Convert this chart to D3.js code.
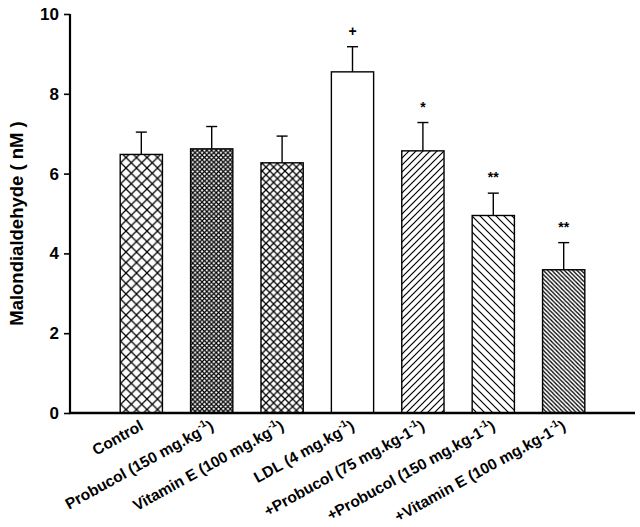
<!DOCTYPE html>
<html><head><meta charset="utf-8">
<script src="https://cdn.jsdelivr.net/npm/d3@7/dist/d3.min.js"></script>
<style>
html,body{margin:0;padding:0;background:#fff;}
text{font-family:"Liberation Sans",Arial,sans-serif;font-weight:bold;fill:#000;}
</style></head>
<body>
<svg id="chart" width="640" height="527"></svg>
<script>
const categories = ["Control","Probucol (150 mg.kg","Vitamin E (100 mg.kg","LDL (4 mg.kg","+Probucol (75 mg.kg-1","+Probucol (150 mg.kg-1","+Vitamin E (100 mg.kg-1"];
const labelSup = ["", "-1", "-1", "-1", "-1", "-1", "-1"];
const labelTail = ["", ")", ")", ")", ")", ")", ")"];
const values = [6.48, 6.62, 6.27, 8.55, 6.57, 4.95, 3.59];
const errors = [0.56, 0.56, 0.67, 0.63, 0.71, 0.56, 0.68];
const marks = ["", "", "", "+", "*", "**", "**"];
const patterns = ["cross", "crossDense", "crossMed", "none", "fwd", "back", "backDense"];
const yTicks = [0, 2, 4, 6, 8, 10];

const svg = d3.select("#chart");
const x0 = 70, x1 = 635, yTop = 14, yBot = 413;
const x = d3.scaleBand().domain(categories).range([x0, x1]).paddingInner(0.4).paddingOuter(0.713);
const y = d3.scaleLinear().domain([0, 10]).range([yBot, yTop]);

const defs = svg.append("defs");
function hatch(id, P, sw, dirs) {
  const p = defs.append("pattern").attr("id", id).attr("patternUnits", "userSpaceOnUse")
    .attr("width", P).attr("height", P);
  p.append("rect").attr("width", P).attr("height", P).attr("fill", "#fff");
  if (dirs.includes("/")) p.append("path").attr("d", `M${-P},${P} L${P},${-P} M0,${2*P} L${2*P},0 M0,${P} L${P},0`)
    .attr("stroke", "#000").attr("stroke-width", sw);
  if (dirs.includes("\\")) p.append("path").attr("d", `M${-P},0 L${P},${2*P} M0,${-P} L${2*P},${P} M0,0 L${P},${P}`)
    .attr("stroke", "#000").attr("stroke-width", sw);
}
hatch("cross", 10.5, 1.3, "/\\");
hatch("crossDense", 4.7, 1.2, "/\\");
hatch("crossMed", 7.6, 1.3, "/\\");
hatch("fwd", 7, 1.2, "/");
hatch("back", 8, 1.2, "\\");
hatch("backDense", 4.2, 1.3, "\\");

const fillFor = p => p === "none" ? "#fff" : `url(#${p})`;

const bw = x.bandwidth();
// bars
svg.append("g").selectAll("rect").data(categories).join("rect")
  .attr("x", d => x(d)).attr("width", bw)
  .attr("y", (d, i) => y(values[i])).attr("height", (d, i) => y(0) - y(values[i]))
  .attr("fill", (d, i) => fillFor(patterns[i]))
  .attr("stroke", "#000").attr("stroke-width", 1.4);

// error bars
const eg = svg.append("g").attr("stroke", "#000").attr("stroke-width", 1.4);
categories.forEach((c, i) => {
  const cx = x(c) + bw / 2;
  eg.append("line").attr("x1", cx).attr("x2", cx).attr("y1", y(values[i])).attr("y2", y(values[i] + errors[i]));
  eg.append("line").attr("x1", cx - 5.5).attr("x2", cx + 5.5).attr("y1", y(values[i] + errors[i])).attr("y2", y(values[i] + errors[i]));
});

// significance marks
svg.append("g").selectAll("text").data(categories).join("text")
  .attr("x", d => x(d) + bw / 2)
  .attr("y", (d, i) => y(values[i] + errors[i]) - 11)
  .attr("text-anchor", "middle").attr("font-size", 14)
  .text((d, i) => marks[i]);

// y axis
const yAxis = d3.axisLeft(y).tickValues(yTicks).tickSize(6).tickPadding(5).tickFormat(d3.format("d"));
const ya = svg.append("g").attr("transform", `translate(${x0},0)`).call(yAxis);
ya.select(".domain").attr("stroke-width", 2.2).attr("d", `M0,${yTop}V${yBot}`);
ya.selectAll(".tick line").attr("stroke-width", 1.6);
ya.selectAll(".tick text").attr("font-size", 17).attr("font-family", "Liberation Sans, Arial, sans-serif").attr("font-weight", "bold");

// x axis line
svg.append("line").attr("x1", x0 - 1).attr("x2", x1).attr("y1", yBot).attr("y2", yBot)
  .attr("stroke", "#000").attr("stroke-width", 2.4);

// x labels
const lg = svg.append("g");
categories.forEach((c, i) => {
  const cx = x(c) + bw / 2 + 3;
  const t = lg.append("text").attr("transform", `translate(${cx},${yBot + 16}) rotate(-29)`)
    .attr("text-anchor", "end").attr("font-size", 15.5);
  t.append("tspan").text(c);
  if (labelSup[i]) {
    t.append("tspan").attr("font-size", 10).attr("dy", -7).text(labelSup[i]);
    t.append("tspan").attr("dy", 7).text(labelTail[i]);
  }
});

// y label
svg.append("text").attr("transform", `translate(23,${(yTop + yBot) / 2 + 10}) rotate(-90)`)
  .attr("text-anchor", "middle").attr("font-size", 18.5).text("Malondialdehyde ( nM )");
</script>
</body></html>
